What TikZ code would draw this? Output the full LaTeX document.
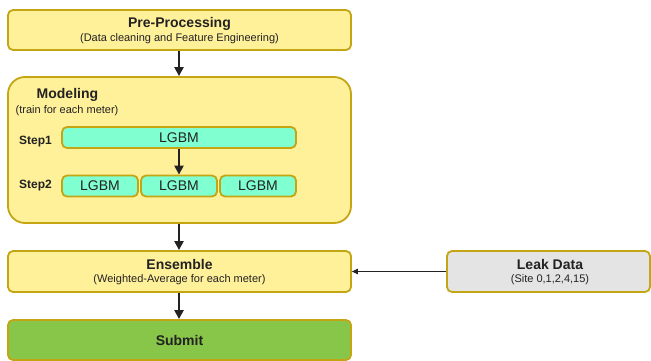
\documentclass[tikz,border=0pt]{standalone}
\usepackage{fontspec}
\setmainfont{Liberation Sans}
\usetikzlibrary{arrows.meta}
\definecolor{boxyellow}{HTML}{FFF09A}
\definecolor{boxborder}{HTML}{C4A514}
\definecolor{lgbmfill}{HTML}{80FFD0}
\definecolor{submitgreen}{HTML}{88C64A}
\definecolor{leakgray}{HTML}{E4E4E4}
\definecolor{txt}{HTML}{222222}
\tikzset{
  box/.style={draw=boxborder, line width=1.8pt, rounded corners=5pt, inner sep=0pt, fill=boxyellow},
  lgbm/.style={box, fill=lgbmfill, minimum height=21pt, font=\fontsize{14}{16}\selectfont, text=txt},
  ttl/.style={font=\fontsize{14}{16}\selectfont\bfseries, text=txt, inner sep=0pt},
  sub/.style={font=\fontsize{11}{13}\selectfont, text=txt, inner sep=0pt},
  stp/.style={font=\fontsize{12}{14}\selectfont\bfseries, text=txt, inner sep=0pt},
  arr/.style={draw=txt, line width=2.5pt, -{Triangle[length=9pt,width=9pt]}},
  thinarr/.style={draw=txt, line width=0.8pt, -{Triangle[length=6pt,width=5.5pt]}}
}
\begin{document}
\begin{tikzpicture}[x=1pt,y=-1pt]
\useasboundingbox (0,0) rectangle (651,361);
% Pre-processing
\node[box, minimum width=343pt, minimum height=40pt] (pre) at (179.5,30) {};
\node[ttl] (pret) at (179.5,23.5) {Pre-Processing};
\node[sub] (pres) at (179.5,38.5) {(Data cleaning and Feature Engineering)};
% Modeling
\node[box, rounded corners=17pt, minimum width=343pt, minimum height=146pt] (mod) at (179.5,150) {};
\node[ttl, anchor=west] (modt) at (36.5,95) {Modeling};
\node[sub, anchor=west] (mods) at (15.5,110.5) {(train for each meter)};
\node[stp, anchor=west] (s1) at (19,142) {Step1};
\node[stp, anchor=west] (s2) at (19,186) {Step2};
\node[lgbm, minimum width=234pt] (l1) at (179,137.5) {LGBM};
\node[lgbm, minimum width=76pt] (l2a) at (100,186) {LGBM};
\node[lgbm, minimum width=76pt] (l2b) at (179,186) {LGBM};
\node[lgbm, minimum width=76pt] (l2c) at (258,186) {LGBM};
% Ensemble
\node[box, minimum width=343pt, minimum height=41pt] (ens) at (179.5,271.5) {};
\node[ttl] (enst) at (179.5,264.5) {Ensemble};
\node[sub] (enss) at (179.5,280) {(Weighted-Average for each meter)};
% Submit
\node[box, fill=submitgreen, minimum width=343pt, minimum height=40pt] (sub) at (179.5,340) {};
\node[ttl] (subt) at (179.5,340) {Submit};
% Leak data
\node[box, fill=leakgray, minimum width=203pt, minimum height=41pt] (leak) at (548.5,271.5) {};
\node[ttl] (leakt) at (550,264.5) {Leak Data};
\node[sub] (leaks) at (550,280) {(Site 0,1,2,4,15)};
% arrows
\draw[arr] (pre.south -| l1.south) -- (mod.north -| l1.south);
\draw[arr] (l1.south) -- (l2b.north);
\draw[arr] (mod.south -| l1.south) -- (ens.north -| l1.south);
\draw[arr] (ens.south -| l1.south) -- (sub.north -| l1.south);
\draw[thinarr] (leak.west) -- (ens.east);
\end{tikzpicture}
\end{document}
